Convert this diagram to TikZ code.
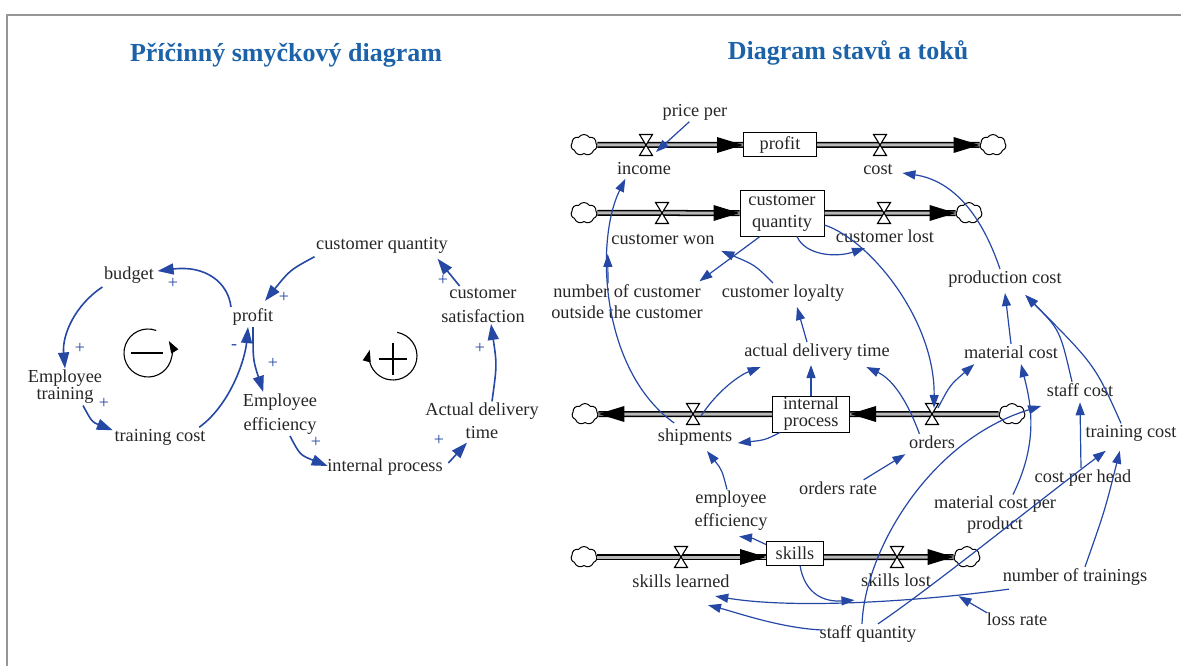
\documentclass[tikz,border=0pt]{standalone}
\usepackage{fontspec}
\setmainfont{Liberation Serif}
\usetikzlibrary{arrows.meta,calc,shapes.symbols}
\definecolor{cblue}{RGB}{38,72,165}
\definecolor{tblue}{RGB}{28,98,168}
\definecolor{framegray}{RGB}{150,150,150}
\begin{document}
\begin{tikzpicture}[x=1pt,y=-1pt,
  lbl/.style={font=\fontsize{18.3}{22}\selectfont, inner sep=1.5pt, align=center, text=black!85},
  stock/.style={draw, line width=1pt, fill=white, inner sep=0pt, align=center, text=black!85},
  ttl/.style={font=\fontsize{26}{30}\selectfont\bfseries, text=tblue},
  pol/.style={font=\fontsize{18}{18}\selectfont, text=cblue, inner sep=0pt},
  cb/.style={draw=cblue, line width=1.2pt, -{Triangle[length=13pt,width=9pt]}},
  cl/.style={draw=cblue, line width=1.6pt, -{Triangle[length=16pt,width=11pt]}},
  pipe/.style={draw=black, line width=1.5pt, double=black!28, double distance=3pt},
  cloudn/.style={cloud, cloud puffs=7, cloud puff arc=110, draw, fill=white, line width=1pt, minimum width=26pt, minimum height=21pt, inner sep=0pt, aspect=1.2},
  pics/valve/.style={code={\draw[line width=1.1pt, fill=white] (-6.5,-10.5) -- (6.5,-10.5) -- (-6.5,10.5) -- (6.5,10.5) -- cycle;}},
  pics/ptip/.style={code={\fill (0,0) -- (-26,-8) -- (-26,8) -- cycle;}},
]
\useasboundingbox (0,0) rectangle (1181,666);
\draw[framegray, line width=2pt] (7,666) -- (7,15) -- (1181,15);

% titles
\node[ttl] (t1) at (286,55) {Příčinný smyčkový diagram};
\node[ttl] (t2) at (848,53) {Diagram stavů a toků};

% ---------- causal loop diagram ----------
\node[lbl] (budget) at (129,275) {budget};
\node[lbl] (profitL) at (253,317) {profit};
\node[lbl] (custqL) at (382,245) {customer quantity};
\node[lbl, font=\fontsize{18.3}{24}\selectfont] (custsat) at (483,305) {customer\\satisfaction};
\node[lbl, font=\fontsize{18.3}{17}\selectfont] (emptrain) at (65,387) {Employee\\training};
\node[lbl] (traincost) at (160,437) {training cost};
\node[lbl, font=\fontsize{18.3}{24}\selectfont] (empeff) at (280,414) {Employee\\efficiency};
\node[lbl] (intproc) at (385,467) {internal process};
\node[lbl, font=\fontsize{18.3}{23}\selectfont] (actdel) at (482,421) {Actual delivery\\time};

\begin{scope}[shift={(148,353)}, y=1pt]
  \draw[line width=1.1pt, -{Triangle[length=12pt,width=8pt]}] (70:24) arc[start angle=70, end angle=390, radius=24];
  \draw[line width=2pt] (-17,0) -- (15,0);
\end{scope}
\begin{scope}[shift={(393,356)}, y=1pt]
  \draw[line width=1.1pt, -{Triangle[length=12pt,width=8pt]}] (80:24) arc[start angle=80, end angle=-195, radius=24];
  \draw[line width=2pt] (-14,-3) -- (14,-3) (0,-19) -- (0,13);
\end{scope}

\draw[cl] (profitL.north west) .. controls (228,282) and (205,265) .. ($(budget.east)+(2,-4)$);
\draw[cl] ($(budget.south west)+(0,2)$) .. controls (75,305) and (62,335) .. (emptrain.north);
\draw[cl] ($(emptrain.south)+(18,0)$) .. controls (92,422) .. ($(traincost.north west)+(0,3)$);
\draw[cl] ($(traincost.north east)+(-8,0)$) .. controls (230,405) and (245,360) .. ($(profitL.south)+(-5,0)$);
\draw[cl] (profitL.south) .. controls (253,360) .. ($(empeff.north west)+(22,0)$);
\draw[cl] ($(empeff.south)+(10,0)$) .. controls (300,455) .. ($(intproc.west)+(2,-1)$);
\draw[cl] ($(intproc.east)+(4,-4)$) -- ($(actdel.south)+(-15,2)$);
\draw[cl] ($(actdel.north)+(10,0)$) .. controls (497,365) .. ($(custsat.south)+(8,0)$);
\draw[cl] ($(custsat.north west)+(20,0)$) -- ($(custqL.south east)+(-12,4)$);
\draw[cl] ($(custqL.south west)+(0,2)$) .. controls (290,270) .. ($(profitL.north east)+(-10,-6)$);

\node[pol] (s1) at (173,283) {+};
\node[pol] (s2) at (80,348) {+};
\node[pol] (s3) at (104,403) {+};
\node[pol] (s4) at (234,347) {-};
\node[pol] (s5) at (273,363) {+};
\node[pol] (s6) at (316,442) {+};
\node[pol] (s7) at (439,440) {+};
\node[pol] (s8) at (480,348) {+};
\node[pol] (s9) at (443,280) {+};
\node[pol] (s10) at (284,297) {+};

% ---------- stock and flow diagram ----------
% row 1
\node[cloudn] (cl1) at (584,145) {};
\node[stock, minimum width=73pt, minimum height=24pt, font=\fontsize{18.3}{20}\selectfont] (profitS) at (780,145) {profit};
\node[cloudn] (cl2) at (993,145) {};
\draw[pipe] (cl1.east) -- (profitS.west);
\draw[pipe] (profitS.east) -- (cl2.west);
\pic at (profitS.west) {ptip};
\pic at (cl2.west) {ptip};
\coordinate (v1) at (646,145);
\coordinate (v2) at (880,145);
\pic at (v1) {valve};
\pic at (v2) {valve};
\node[lbl] (income) at (644,169) {income};
\node[lbl] (pricePer) at (695,112) {price per};
\node[lbl] (cost) at (878,169) {cost};

% row 2
\node[cloudn] (cl3) at (584,213) {};
\node[stock, minimum width=84pt, minimum height=46pt, font=\fontsize{18.3}{22}\selectfont] (custQ) at (782,213) {customer\\quantity};
\node[cloudn] (cl4) at (969,213) {};
\draw[pipe] (cl3.east) -- (custQ.west);
\draw[pipe] (custQ.east) -- (cl4.west);
\pic at (custQ.west) {ptip};
\pic at (cl4.west) {ptip};
\coordinate (v3) at (662,213);
\coordinate (v4) at (884,213);
\pic at (v3) {valve};
\pic at (v4) {valve};
\node[lbl] (custWon) at (663,239) {customer won};
\node[lbl] (custLost) at (885,236) {customer lost};

% row 3
\node[cloudn] (cl5) at (585,414) {};
\node[stock, minimum width=77pt, minimum height=36pt, font=\fontsize{18.3}{17}\selectfont] (intProc) at (811,414) {internal\\process};
\node[cloudn] (cl6) at (1012,414) {};
\draw[pipe] (cl6.west) -- (intProc.east);
\draw[pipe] (intProc.west) -- (cl5.east);
\pic[rotate=180] at (intProc.east) {ptip};
\pic[rotate=180] at (cl5.east) {ptip};
\coordinate (v5) at (693,414);
\coordinate (v6) at (932,414);
\pic at (v5) {valve};
\pic at (v6) {valve};
\node[lbl] (shipments) at (695,437) {shipments};
\node[lbl] (orders) at (932,442) {orders};

% row 4
\node[cloudn] (cl7) at (584,557) {};
\node[stock, minimum width=57pt, minimum height=24pt, font=\fontsize{18.3}{20}\selectfont] (skills) at (795,553) {skills};
\node[cloudn] (cl8) at (967,557) {};
\draw[pipe] (cl7.east) -- (cl7.east -| skills.west);
\draw[pipe] (cl7.east -| skills.east) -- (cl8.west);
\pic at (cl7.east -| skills.west) {ptip};
\pic at (cl8.west) {ptip};
\coordinate (v7) at (681,557);
\coordinate (v8) at (897,557);
\pic at (v7) {valve};
\pic at (v8) {valve};
\node[lbl] (skillsLearned) at (681,581) {skills learned};
\node[lbl] (skillsLost) at (896,580) {skills lost};

% auxiliaries
\node[lbl, font=\fontsize{18.3}{21}\selectfont] (numCust) at (627,302) {number of customer\\outside the customer};
\node[lbl] (custLoyal) at (783,293) {customer loyalty};
\node[lbl] (prodCost) at (1005,279) {production cost};
\node[lbl] (actDel) at (817,352) {actual delivery time};
\node[lbl] (matCost) at (1011,352) {material cost};
\node[lbl] (staffCost) at (1080,390) {staff cost};
\node[lbl] (trainCostS) at (1131,433) {training cost};
\node[lbl] (costHead) at (1083,478) {cost per head};
\node[lbl, font=\fontsize{18.3}{21}\selectfont] (matCostPer) at (995,515) {material cost per\\product};
\node[lbl] (ordersRate) at (838,488) {orders rate};
\node[lbl, font=\fontsize{18.3}{23}\selectfont] (empEffS) at (731,511) {employee\\efficiency};
\node[lbl] (numTrain) at (1075,577) {number of trainings};
\node[lbl] (lossRate) at (1017,619) {loss rate};
\node[lbl] (staffQ) at (868,634) {staff quantity};

% connectors
\draw[cb] (pricePer.240) -- ($(v1)+(10,7)$);
\draw[cb] ($(shipments.north west)+(18,-4)$) .. controls (600,370) and (595,240) .. ($(income.south west)+(10,2)$);
\draw[cb] ($(numCust.north)+(-19,0)$) -- ($(custWon.south west)+(-2,8)$);
\draw[cb] ($(custQ.south)+(-22,0)$) -- ($(numCust.north east)+(-5,-2)$);
\draw[cb] ($(custLoyal.north)+(-10,0)$) .. controls (755,265) .. ($(custWon.south east)+(5,5)$);
\draw[cb] ($(custQ.south)+(15,0)$) .. controls (805,255) and (835,258) .. ($(custLost.south)+(-20,4)$);
\draw[cb] ($(custQ.east)+(0,12)$) .. controls (870,240) and (935,320) .. ($(v6)+(2,-6)$);
\draw[cb] ($(actDel.north)+(-10,0)$) -- ($(custLoyal.south)+(14,4)$);
\draw[cb] ($(v5)+(8,2)$) .. controls (718,390) and (740,375) .. ($(actDel.south west)+(18,5)$);
\draw[cb] (intProc.north) -- ($(intProc.north |- actDel.south)+(0,3)$);
\draw[cb] ($(orders.north west)+(12,0)$) .. controls (905,395) and (890,378) .. ($(actDel.south east)+(-25,5)$);
\draw[cb] ($(intProc.south west)+(8,0)$) .. controls (765,440) .. ($(shipments.east)+(4,6)$);
\draw[cb] ($(v6)+(6,-6)$) .. controls (950,385) .. ($(matCost.south west)+(12,4)$);
\draw[cb] (matCost.north) -- ($(prodCost.south)+(0,4)$);
\draw[cb] ($(staffCost.north)+(-8,0)$) .. controls (1060,330) .. ($(prodCost.south east)+(-38,6)$);
\draw[cb] ($(trainCostS.north)+(-10,0)$) .. controls (1095,365) .. ($(prodCost.south east)+(-38,6)$);
\draw[cb] ($(prodCost.north)+(-5,0)$) .. controls (980,210) and (950,180) .. ($(cost.east)+(8,4)$);
\draw[cb] ($(costHead.north)+(-2,0)$) -- ($(staffCost.south)+(0,4)$);
\draw[cb] ($(matCostPer.north)+(18,0)$) .. controls (1040,440) and (1030,400) .. ($(matCost.south)+(10,4)$);
\draw[cb] ($(ordersRate.north east)+(-15,0)$) -- ($(orders.south west)+(-2,4)$);
\draw[cb] ($(skills.north west)+(0,4)$) .. controls (752,538) .. ($(empEffS.south)+(8,4)$);
\draw[cb] ($(empEffS.north)+(-4,0)$) .. controls (722,470) .. ($(shipments.south)+(12,4)$);
\draw[cb] ($(skills.south)+(5,0)$) .. controls (805,595) and (825,602) .. ($(skillsLost.south west)+(-5,12)$);
\draw[cb] ($(lossRate.north west)+(2,2)$) -- ($(skillsLost.south east)+(26,8)$);
\draw[cb] ($(numTrain.south west)+(8,2)$) .. controls (930,600) and (800,610) .. ($(skillsLearned.south east)+(-16,7)$);
\draw[cb] ($(staffQ.west)+(4,-4)$) .. controls (780,628) and (735,612) .. ($(skillsLearned.south)+(27,16)$);
\draw[cb] ($(staffQ.north)+(-6,0)$) .. controls (865,550) and (930,440) .. ($(staffCost.west)+(-4,16)$);
\draw[cb] ($(staffQ.north)+(10,0)$) .. controls (935,585) and (1040,500) .. ($(trainCostS.south west)+(22,8)$);
\draw[cb] ($(numTrain.north)+(10,0)$) .. controls (1105,510) .. ($(trainCostS.south west)+(36,8)$);
\end{tikzpicture}
\end{document}
